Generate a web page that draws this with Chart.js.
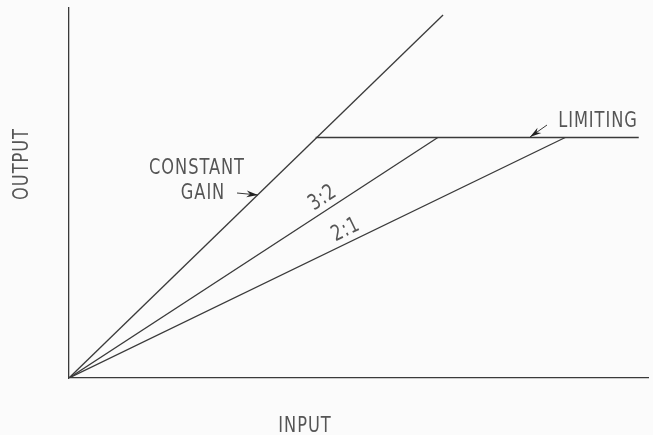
<!DOCTYPE html>
<html>
<head>
<meta charset="utf-8">
<script src="https://cdn.jsdelivr.net/npm/chart.js@4/dist/chart.umd.min.js"></script>
<style>
  html, body { margin: 0; padding: 0; background: #fbfbfb; }
  #wrap { width: 653px; height: 435px; position: relative; }
</style>
</head>
<body>
<div id="wrap"><canvas id="chart" width="653" height="435"></canvas></div>
<script>
// ------------------------------
// Data (arbitrary units, input 0..100 / output 0..100)
// ------------------------------
const gainX = [0, 64.6];
const gainY = [0, 98.1];
const ratio32X = [0, 63.7];
const ratio32Y = [0, 65];
const ratio21X = [0, 85.7];
const ratio21Y = [0, 65];
const limitX = [42.6, 98.4];
const limitY = [65, 65];

const xTitle = "INPUT";
const yTitle = "OUTPUT";

const ink = "#3a3a3a";
const font = "'Liberation Sans Narrow', 'DejaVu Sans Condensed', 'Liberation Sans', sans-serif";

const toPoints = (xs, ys) => xs.map((x, i) => ({ x, y: ys[i] }));

function lineSet(xs, ys) {
  return {
    data: toPoints(xs, ys),
    showLine: true,
    borderColor: ink,
    borderWidth: 1.3,
    pointRadius: 0,
    fill: false
  };
}

// ------------------------------
// Labels, arrows and axis titles
// ------------------------------
const annotate = {
  id: "annotate",
  afterDraw(chart) {
    const { ctx, scales: { x, y } } = chart;
    const px = v => x.getPixelForValue(v);
    const py = v => y.getPixelForValue(v);

    ctx.save();
    ctx.fillStyle = "#555";
    ctx.strokeStyle = ink;
    ctx.textAlign = "center";
    ctx.textBaseline = "middle";
    ctx.font = "19px " + font;
    ctx.letterSpacing = "1px";

    // tall, narrow lettering like the drafting stencil
    const label = (text, cx, cy, angle = 0) => {
      ctx.save();
      ctx.translate(cx, cy);
      ctx.rotate(angle);
      ctx.scale(0.95, 1.15);
      ctx.fillText(text, 0, 0);
      ctx.restore();
    };

    // axis titles
    label(xTitle, 305, 426);
    label(yTitle, 22, 164, -Math.PI / 2);

    // curve labels
    label("CONSTANT", 197, 168);
    label("GAIN", 203, 193);
    label("LIMITING", 598, 121);

    const angleOf = (xs, ys) => Math.atan2(py(ys[1]) - py(ys[0]), px(xs[1]) - px(xs[0]));
    label("3:2", 323, 198, angleOf(ratio32X, ratio32Y));
    label("2:1", 346, 230, angleOf(ratio21X, ratio21Y));

    // arrows
    const arrow = (x0, y0, x1, y1) => {
      ctx.beginPath();
      ctx.moveTo(x0, y0);
      ctx.lineTo(x1, y1);
      ctx.lineWidth = 1;
      ctx.stroke();
      const a = Math.atan2(y1 - y0, x1 - x0);
      ctx.beginPath();
      ctx.moveTo(x1, y1);
      ctx.lineTo(x1 - 12 * Math.cos(a - 0.28), y1 - 12 * Math.sin(a - 0.28));
      ctx.lineTo(x1 - 8 * Math.cos(a), y1 - 8 * Math.sin(a));
      ctx.lineTo(x1 - 12 * Math.cos(a + 0.28), y1 - 12 * Math.sin(a + 0.28));
      ctx.closePath();
      ctx.fillStyle = "#222";
      ctx.fill();
    };
    arrow(237, 193, 258, 195);
    arrow(547, 125, 530, 137);

    ctx.restore();
  }
};

new Chart(document.getElementById("chart"), {
  type: "scatter",
  data: {
    datasets: [
      lineSet(gainX, gainY),
      lineSet(ratio32X, ratio32Y),
      lineSet(ratio21X, ratio21Y),
      lineSet(limitX, limitY)
    ]
  },
  options: {
    responsive: false,
    animation: false,
    layout: { padding: { left: 69, right: 5, top: 8, bottom: 57 } },
    plugins: { legend: { display: false }, tooltip: { enabled: false } },
    scales: {
      x: {
        type: "linear", min: 0, max: 100,
        ticks: { display: false },
        grid: { display: false, drawTicks: false },
        border: { display: true, color: ink, width: 1.3 }
      },
      y: {
        type: "linear", min: 0, max: 100,
        ticks: { display: false },
        grid: { display: false, drawTicks: false },
        border: { display: true, color: ink, width: 1.3 }
      }
    }
  },
  plugins: [annotate]
});
</script>
</body>
</html>
